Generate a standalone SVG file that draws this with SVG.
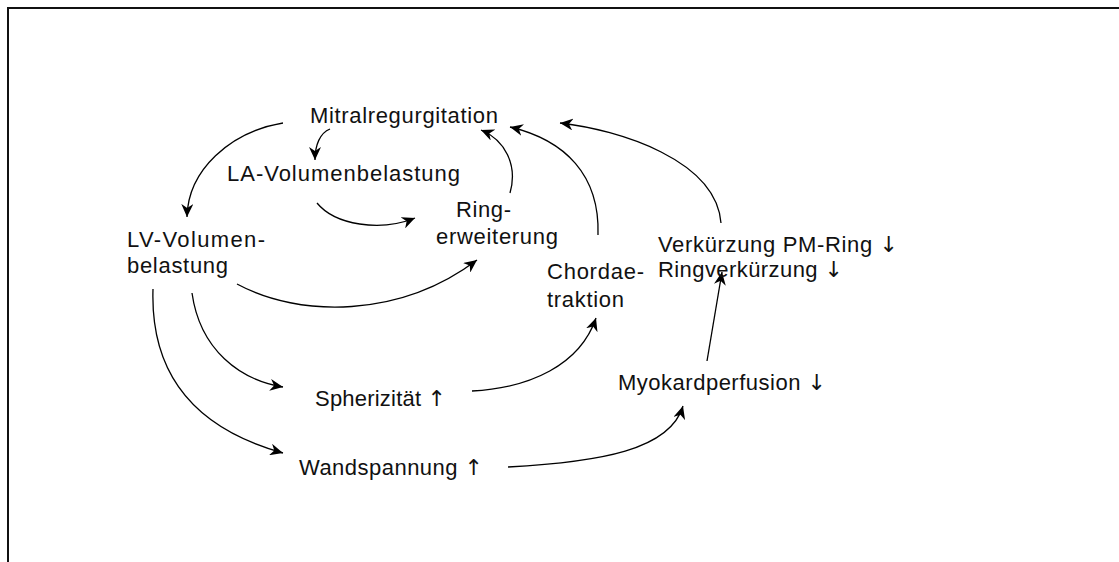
<svg xmlns="http://www.w3.org/2000/svg" width="1119" height="562" viewBox="0 0 1119 562">
<style>
text{font-family:"Liberation Sans",Arial,sans-serif;font-size:22px;fill:#111}
.ar{font-family:"DejaVu Sans",sans-serif;font-weight:normal}
.c{fill:none;stroke:#000;stroke-width:1.3;marker-end:url(#ah)}
.frame{fill:none;stroke:#111;stroke-width:2}
</style>
<defs>
<marker id="ah" markerUnits="userSpaceOnUse" markerWidth="14" markerHeight="12" viewBox="0 0 14 12" refX="13" refY="6" orient="auto">
<path d="M0,0 L13,6 L0,12 L4,6 z" fill="#000"/>
</marker>
</defs>
<path class="frame" d="M8,562 L8,8 L1119,8"/>
<g id="connectors">
<path class="c" d="M283,123 C230,132 188,170 187,217"/>
<path class="c" d="M330,129 C320,133 315,145 315,160"/>
<path class="c" d="M317,203 C335,225 380,232 415,218"/>
<path class="c" d="M510,193 C518,165 505,140 481,130"/>
<path class="c" d="M598,235 C600,175 565,140 510,127"/>
<path class="c" d="M721,223 C716,160 620,130 560,123"/>
<path class="c" d="M237,284 C300,318 400,318 477,260"/>
<path class="c" d="M192,293 C200,350 240,380 283,387"/>
<path class="c" d="M153,289 C150,380 200,430 283,453"/>
<path class="c" d="M472,391 C530,388 580,365 596,318"/>
<path class="c" d="M508,467 C600,462 670,450 683,406"/>
<path class="c" d="M707,361 L722,272"/>
</g>
<g id="mitral"><text x="310" y="123" textLength="188" lengthAdjust="spacing">Mitralregurgitation</text></g>
<g id="la"><text x="227" y="181" textLength="233" lengthAdjust="spacing">LA-Volumenbelastung</text></g>
<g id="lv"><text x="127" y="247" textLength="138" lengthAdjust="spacing">LV-Volumen-</text><text x="127" y="273" textLength="101" lengthAdjust="spacing">belastung</text></g>
<g id="ring"><text x="456" y="217" textLength="55" lengthAdjust="spacing">Ring-</text><text x="436" y="244" textLength="122" lengthAdjust="spacing">erweiterung</text></g>
<g id="chordae"><text x="547" y="279" textLength="97" lengthAdjust="spacing">Chordae-</text><text x="547" y="307" textLength="77" lengthAdjust="spacing">traktion</text></g>
<g id="verk"><text x="658" y="252" textLength="240" lengthAdjust="spacing">Verkürzung PM-Ring <tspan class="ar">↓</tspan></text><text x="658" y="277" textLength="185" lengthAdjust="spacing">Ringverkürzung <tspan class="ar">↓</tspan></text></g>
<g id="spher"><text x="315" y="406" textLength="131" lengthAdjust="spacing">Spherizität <tspan class="ar">↑</tspan></text></g>
<g id="wand"><text x="299" y="475" textLength="184" lengthAdjust="spacing">Wandspannung <tspan class="ar">↑</tspan></text></g>
<g id="myo"><text x="618" y="390" textLength="208" lengthAdjust="spacing">Myokardperfusion <tspan class="ar">↓</tspan></text></g>
</svg>
